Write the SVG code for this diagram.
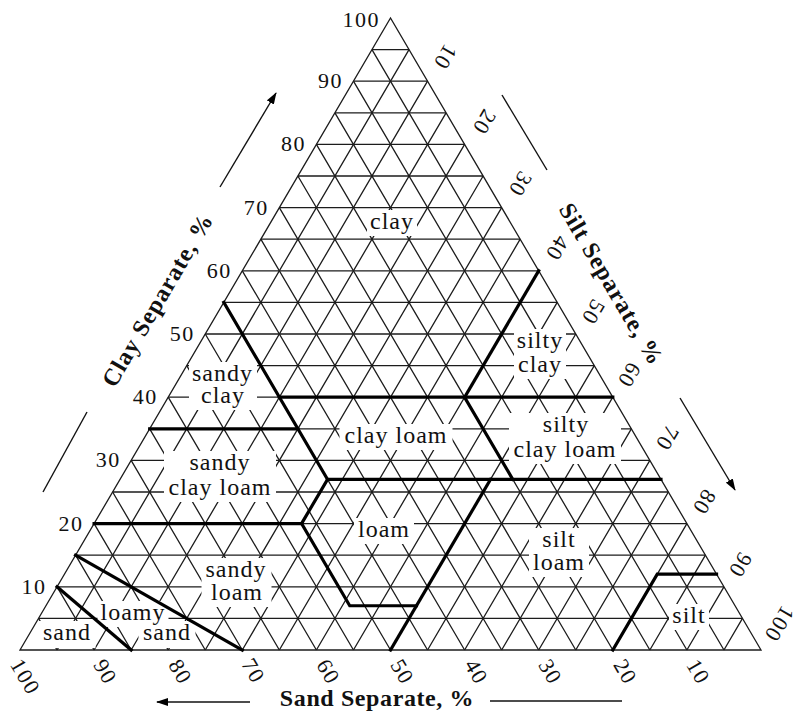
<svg xmlns="http://www.w3.org/2000/svg" width="800" height="717" viewBox="0 0 800 717">
<defs>
<style>
.g{stroke:#1c1c1c;stroke-width:1.3;fill:none}
.b{stroke:#000;stroke-width:3.2;fill:none;stroke-linejoin:miter;stroke-linecap:square}
.a{stroke:#111;stroke-width:1.4;fill:none}
.k{fill:#fff}
.n{font-family:"Liberation Serif","Times New Roman",serif;font-size:22px;letter-spacing:1.5px;fill:#111}
.l{font-family:"Liberation Serif","Times New Roman",serif;font-size:24px;letter-spacing:1px;text-anchor:middle;fill:#111}
.t{font-family:"Liberation Serif","Times New Roman",serif;font-size:24px;font-weight:bold;letter-spacing:1px;text-anchor:middle;fill:#111}
.m{text-anchor:middle}
.e{text-anchor:end}
</style>
<marker id="ah" viewBox="0 0 12 8" refX="11" refY="4" markerWidth="12" markerHeight="8" markerUnits="userSpaceOnUse" orient="auto"><path d="M0,0 L12,4 L0,8 z" fill="#000"/></marker>
</defs>
<rect width="800" height="717" fill="#fff"/>
<g id="grid" class="g">
<path d="M38.525,618.4H742.475 M57.05,586.8H723.95 M75.575,555.2H705.425 M94.1,523.6H686.9 M112.625,492H668.375 M131.15,460.4H649.85 M149.675,428.8H631.325 M168.2,397.2H612.8 M186.725,365.6H594.275 M205.25,334H575.75 M223.775,302.4H557.225 M242.3,270.8H538.7 M260.825,239.2H520.175 M279.35,207.6H501.65 M297.875,176H483.125 M316.4,144.4H464.6 M334.925,112.8H446.075 M353.45,81.2H427.55 M371.975,49.6H409.025"/>
<path d="M57.05,650L38.525,618.4 M94.1,650L57.05,586.8 M131.15,650L75.575,555.2 M168.2,650L94.1,523.6 M205.25,650L112.625,492 M242.3,650L131.15,460.4 M279.35,650L149.675,428.8 M316.4,650L168.2,397.2 M353.45,650L186.725,365.6 M390.5,650L205.25,334 M427.55,650L223.775,302.4 M464.6,650L242.3,270.8 M501.65,650L260.825,239.2 M538.7,650L279.35,207.6 M575.75,650L297.875,176 M612.8,650L316.4,144.4 M649.85,650L334.925,112.8 M686.9,650L353.45,81.2 M723.95,650L371.975,49.6"/>
<path d="M57.05,650L409.025,49.6 M94.1,650L427.55,81.2 M131.15,650L446.075,112.8 M168.2,650L464.6,144.4 M205.25,650L483.125,176 M242.3,650L501.65,207.6 M279.35,650L520.175,239.2 M316.4,650L538.7,270.8 M353.45,650L557.225,302.4 M390.5,650L575.75,334 M427.55,650L594.275,365.6 M464.6,650L612.8,397.2 M501.65,650L631.325,428.8 M538.7,650L649.85,460.4 M575.75,650L668.375,492 M612.8,650L686.9,523.6 M649.85,650L705.425,555.2 M686.9,650L723.95,586.8 M723.95,650L742.475,618.4"/>
</g>
<g id="knockouts" class="k">
<rect x="367" y="210" width="50" height="26"/>
<rect x="189" y="362" width="68" height="48"/>
<rect x="164" y="451" width="112" height="51"/>
<rect x="339.5" y="424" width="113" height="26"/>
<rect x="514" y="329" width="52" height="50"/>
<rect x="509" y="413" width="112" height="51"/>
<rect x="354" y="518" width="60" height="26"/>
<rect x="529" y="528" width="60" height="49"/>
<rect x="201.5" y="558" width="70" height="49"/>
<rect x="97.5" y="601" width="71" height="26"/>
<rect x="38.5" y="621" width="57" height="27"/>
<rect x="138.5" y="621" width="57" height="27"/>
<rect x="669" y="604" width="40" height="26"/>
</g>
<g id="outline">
<path class="g" d="M20,650 L390.5,18 L761,650 Z"/>
</g>
<g id="boundaries" class="b">
<path d="M223.775,302.4 L327.515,479.36"/>
<path d="M279.35,397.2 H612.8"/>
<path d="M464.6,397.2 L538.7,270.8"/>
<path d="M464.6,397.2 L512.765,479.36"/>
<path d="M327.515,479.36 H660.965"/>
<path d="M149.675,428.8 H297.875"/>
<path d="M327.515,479.36 L301.58,523.6 L349.745,605.76 H416.435"/>
<path d="M94.1,523.6 H301.58"/>
<path d="M390.5,650 L490.535,479.36"/>
<path d="M612.8,650 L657.26,574.16 H716.54"/>
<path d="M131.15,650 L57.05,586.8"/>
<path d="M242.3,650 L75.575,555.2"/>
</g>
<g id="class-labels" class="l">
<text x="392" y="229">clay</text>
<text x="222.5" y="381">sandy</text>
<text x="223" y="403">clay</text>
<text x="220" y="470">sandy</text>
<text x="220" y="495">clay loam</text>
<text x="396" y="443">clay loam</text>
<text x="540" y="348">silty</text>
<text x="540" y="372">clay</text>
<text x="566" y="432">silty</text>
<text x="565" y="457">clay loam</text>
<text x="384" y="537">loam</text>
<text x="559" y="547">silt</text>
<text x="559" y="570">loam</text>
<text x="236" y="577">sandy</text>
<text x="237" y="600">loam</text>
<text x="133" y="620">loamy</text>
<text x="67" y="640">sand</text>
<text x="167" y="640">sand</text>
<text x="689" y="623">silt</text>
</g>
<g id="clay-scale" class="n e">
<text x="380" y="27">100</text>
<text x="342.95" y="88.2">90</text>
<text x="305.9" y="151.4">80</text>
<text x="268.85" y="214.6">70</text>
<text x="231.8" y="277.8">60</text>
<text x="194.75" y="341">50</text>
<text x="157.7" y="404.2">40</text>
<text x="120.65" y="467.4">30</text>
<text x="83.6" y="530.6">20</text>
<text x="46.5" y="593.8">10</text>
</g>
<g id="silt-scale" class="n m">
<text transform="translate(445,57) rotate(120.4)" y="7">10</text>
<text transform="translate(484,122) rotate(120.4)" y="7">20</text>
<text transform="translate(520,184) rotate(120.4)" y="7">30</text>
<text transform="translate(557,248) rotate(120.4)" y="7">40</text>
<text transform="translate(593,312) rotate(120.4)" y="7">50</text>
<text transform="translate(629,375) rotate(120.4)" y="7">60</text>
<text transform="translate(667,438) rotate(120.4)" y="7">70</text>
<text transform="translate(704,502) rotate(120.4)" y="7">80</text>
<text transform="translate(740,565) rotate(120.4)" y="7">90</text>
<text transform="translate(779,624) rotate(120.4)" y="7">100</text>
</g>
<g id="sand-scale" class="n m">
<text transform="translate(25,677) rotate(59.6)" y="7">100</text>
<text transform="translate(105,672) rotate(59.6)" y="7">90</text>
<text transform="translate(180,672) rotate(59.6)" y="7">80</text>
<text transform="translate(253,671) rotate(59.6)" y="7">70</text>
<text transform="translate(328,672) rotate(59.6)" y="7">60</text>
<text transform="translate(402,672) rotate(59.6)" y="7">50</text>
<text transform="translate(476,672) rotate(59.6)" y="7">40</text>
<text transform="translate(550,672) rotate(59.6)" y="7">30</text>
<text transform="translate(625,672) rotate(59.6)" y="7">20</text>
<text transform="translate(698,672) rotate(59.6)" y="7">10</text>
</g>
<g id="axis-titles" class="t">
<text transform="translate(157.5,300) rotate(-59.6)" y="8">Clay Separate, %</text>
<text transform="translate(611.5,284) rotate(59.6)" y="8">Silt Separate, %</text>
<text x="377" y="706" style="letter-spacing:0.6px">Sand Separate, %</text>
</g>
<g id="arrows" class="a">
<line x1="220" y1="187" x2="276" y2="93" marker-end="url(#ah)"/>
<line x1="87" y1="412" x2="43" y2="492"/>
<line x1="502" y1="95" x2="547" y2="170"/>
<line x1="680" y1="398" x2="735" y2="490" marker-end="url(#ah)"/>
<line x1="250" y1="702" x2="157" y2="702" marker-end="url(#ah)"/>
<line x1="490" y1="701" x2="622" y2="701"/>
</g>
</svg>
